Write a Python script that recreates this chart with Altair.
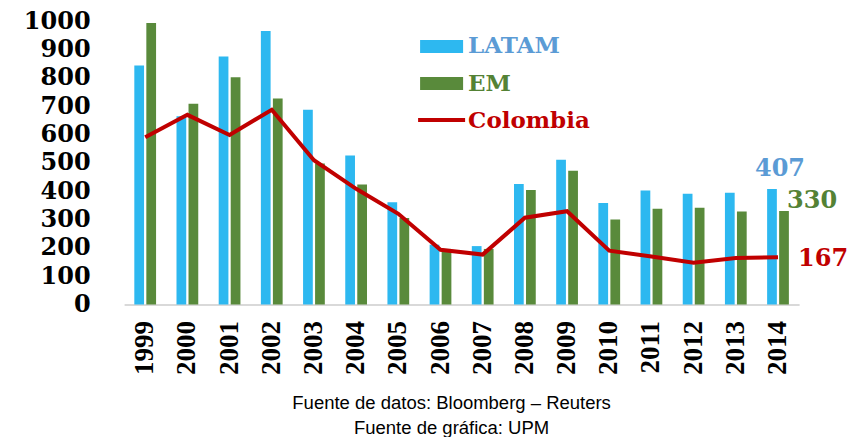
import altair as alt
import pandas as pd

years = [str(y) for y in range(1999, 2015)]
latam = [843, 664, 875, 965, 687, 526, 361, 211, 206, 425, 511, 358, 402, 391, 394, 407]
em = [993, 708, 802, 727, 497, 423, 305, 196, 196, 404, 472, 300, 338, 341, 328, 330]
colombia = [590, 669, 598, 687, 509, 408, 320, 193, 176, 306, 329, 190, 169, 147, 164, 167]
series_names = ["LATAM", "EM"]
bar_colors = ["#2DB8F0", "#598A3B"]
y_ticks = [0, 100, 200, 300, 400, 500, 600, 700, 800, 900, 1000]
footer = ["Fuente de datos: Bloomberg – Reuters", "Fuente de gráfica: UPM"]

bars_df = pd.DataFrame(
    [{"year": y, "series": "LATAM", "value": v} for y, v in zip(years, latam)]
    + [{"year": y, "series": "EM", "value": v} for y, v in zip(years, em)]
)
col_df = pd.DataFrame({"year": years, "value": colombia})

yscale = alt.Scale(domain=[0, 1000], nice=False)

x_enc = alt.X(
    "year:O",
    scale=alt.Scale(domain=years, paddingInner=0, paddingOuter=0),
    axis=alt.Axis(
        title=None, labelAngle=-90, labelFont="Liberation Serif", labelFontWeight="bold",
        labelFontSize=27, labelColor="black", labelPadding=16, ticks=False,
        domainColor="#D9D9D9", domainWidth=2, grid=False,
    ),
)
y_enc = alt.Y(
    "value:Q",
    scale=yscale,
    axis=alt.Axis(
        title=None, values=y_ticks, format="d", labelFont="DejaVu Serif",
        labelFontWeight="bold", labelFontSize=24, labelColor="black", labelPadding=34,
        ticks=False, domain=False, grid=False, labelOverlap=False,
    ),
)

bars = alt.Chart(bars_df).mark_bar().encode(
    x=x_enc,
    xOffset=alt.XOffset("series:N", sort=series_names,
                        scale=alt.Scale(domain=series_names, paddingInner=0.19, paddingOuter=0.85)),
    y=y_enc,
    color=alt.Color("series:N", scale=alt.Scale(domain=series_names, range=bar_colors), legend=None),
)

line = alt.Chart(col_df).mark_line(color="#C00000", strokeWidth=4).encode(x=x_enc, y=y_enc)

lab_font = dict(font="DejaVu Serif", fontWeight="bold", fontSize=24, baseline="middle")
latam_end = pd.DataFrame({"year": [years[-1]], "value": [latam[-1]]})
em_end = pd.DataFrame({"year": [years[-1]], "value": [em[-1]]})
col_end = pd.DataFrame({"year": [years[-1]], "value": [colombia[-1]]})
lab_latam = alt.Chart(latam_end).mark_text(color="#5B9BD5", align="center", dx=2, dy=-20, **lab_font).encode(
    x=x_enc, y=y_enc, text="value:Q")
lab_em = alt.Chart(em_end).mark_text(color="#548235", align="left", dx=9, dy=-10, **lab_font).encode(
    x=x_enc, y=y_enc, text="value:Q")
lab_col = alt.Chart(col_end).mark_text(color="#C00000", align="left", dx=20, dy=1.5, **lab_font).encode(
    x=x_enc, y=y_enc, text="value:Q")

one = alt.Data(values=[{"k": 0}])
leg_font = dict(font="DejaVu Serif", fontWeight="bold", fontSize=23, align="left", baseline="middle")
leg = [
    alt.Chart(one).mark_rect(color=bar_colors[0]).encode(
        x=alt.value(296), x2=alt.value(339), y=alt.value(19), y2=alt.value(32)),
    alt.Chart(one).mark_text(text="LATAM", color="#5B9BD5", **leg_font).encode(
        x=alt.value(344), y=alt.value(24.8)),
    alt.Chart(one).mark_rect(color=bar_colors[1]).encode(
        x=alt.value(296), x2=alt.value(339), y=alt.value(56), y2=alt.value(69)),
    alt.Chart(one).mark_text(text="EM", color="#548235", **leg_font).encode(
        x=alt.value(344), y=alt.value(63.3)),
    alt.Chart(one).mark_rule(color="#C00000", strokeWidth=4).encode(
        x=alt.value(294), x2=alt.value(341), y=alt.value(99)),
    alt.Chart(one).mark_text(text="Colombia", color="#C00000", **leg_font).encode(
        x=alt.value(344), y=alt.value(100.3)),
]

chart = alt.layer(bars, line, lab_latam, lab_em, lab_col, *leg).properties(
    width=675,
    height=283.5,
    autosize=alt.AutoSizeParams(type="none"),
    padding={"left": 116.1, "top": 13, "right": 52, "bottom": 132.5},
    title=alt.TitleParams(
        text=footer, orient="bottom", anchor="middle", font="Liberation Sans",
        fontSize=18.5, fontWeight="normal", color="#000000", lineHeight=25, offset=20, dx=-10,
    ),
).configure_view(stroke=None)

chart.save("out.html", embed_options={"renderer": "svg", "actions": False})
